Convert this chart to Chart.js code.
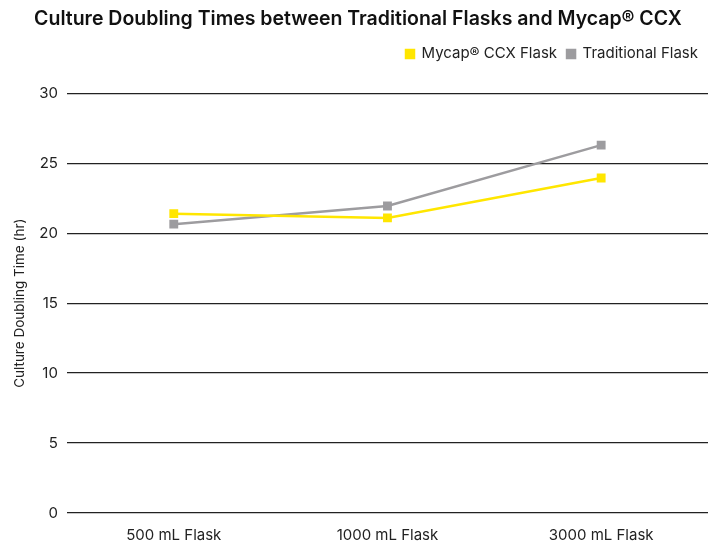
<!DOCTYPE html>
<html lang="en">
<head>
    <meta charset="UTF-8">
    <title>Culture Doubling Times</title>
    <script src="https://cdn.jsdelivr.net/npm/chart.js"></script>
    <style>
        html, body { margin: 0; padding: 0; background: #fff; }
        #wrap { width: 723px; height: 549px; position: relative; }
    </style>
</head>
<body>
    <div id="wrap"><canvas id="grafico"></canvas></div>

    <script>
        const categorias = ['500 mL Flask', '1000 mL Flask', '3000 mL Flask'];
        const mycapCCX = [21.4, 21.1, 23.95];
        const tradicional = [20.65, 21.95, 26.3];
        const yTicks = [0, 5, 10, 15, 20, 25, 30];

        const fonte = "Inter, 'Noto Sans', sans-serif";

        // deixa a legenda um pouco mais afastada do grafico
        const legendaEspaco = {
            id: 'legendaEspaco',
            beforeInit(chart) {
                const fitOriginal = chart.legend.fit;
                chart.legend.fit = function () {
                    fitOriginal.bind(chart.legend)();
                    this.height += 22;
                };
            }
        };

        const ctx = document.getElementById('grafico').getContext('2d');

        new Chart(ctx, {
            type: 'line',
            data: {
                labels: categorias,
                datasets: [{
                    label: 'Mycap\u00ae CCX Flask',
                    data: mycapCCX,
                    borderColor: '#ffe600',
                    backgroundColor: '#ffe600',
                    borderWidth: 2.5,
                    pointStyle: 'rect',
                    pointRadius: 4.5,
                    pointHoverRadius: 4.5,
                    tension: 0
                }, {
                    label: 'Traditional Flask',
                    data: tradicional,
                    borderColor: '#9d9c9f',
                    backgroundColor: '#9d9c9f',
                    borderWidth: 2.5,
                    pointStyle: 'rect',
                    pointRadius: 4.5,
                    pointHoverRadius: 4.5,
                    tension: 0
                }]
            },
            options: {
                responsive: true,
                maintainAspectRatio: false,
                animation: false,
                layout: { padding: { left: 8, right: 15, top: 3, bottom: 0 } },
                plugins: {
                    title: {
                        display: true,
                        text: 'Culture Doubling Times between Traditional Flasks and Mycap\u00ae CCX',
                        color: '#111',
                        font: { family: fonte, size: 19.5, weight: '600' },
                        padding: { top: 4, bottom: 6 }
                    },
                    legend: {
                        position: 'top',
                        align: 'end',
                        labels: {
                            color: '#222',
                            font: { family: fonte, size: 15 },
                            usePointStyle: true,
                            pointStyle: 'rect',
                            boxWidth: 8,
                            boxHeight: 8,
                            padding: 10
                        }
                    },
                    tooltip: { enabled: false }
                },
                scales: {
                    x: {
                        offset: true,
                        grid: { display: false },
                        border: { display: false },
                        ticks: {
                            color: '#222',
                            font: { family: fonte, size: 15 },
                            padding: 5
                        }
                    },
                    y: {
                        min: 0,
                        max: 30,
                        afterBuildTicks: (axis) => {
                            axis.ticks = yTicks.map(v => ({ value: v }));
                        },
                        grid: {
                            color: '#222',
                            lineWidth: 1.3,
                            drawTicks: false
                        },
                        border: { display: false },
                        ticks: {
                            color: '#222',
                            font: { family: fonte, size: 15 },
                            padding: 9
                        },
                        title: {
                            display: true,
                            text: 'Culture Doubling Time (hr)',
                            color: '#222',
                            font: { family: fonte, size: 13.5 },
                            padding: { bottom: 2 }
                        }
                    }
                }
            },
            plugins: [legendaEspaco]
        });
    </script>
</body>
</html>
